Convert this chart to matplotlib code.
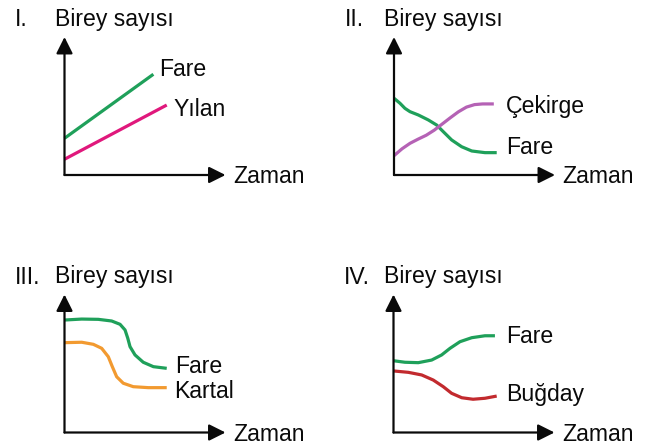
import matplotlib
matplotlib.use("Agg")
import matplotlib.pyplot as plt

plt.rcParams['font.family'] = ['Liberation Sans', 'DejaVu Sans']

W, H = 654, 448

# ---- data (time, population) ----
# Panel I
p1_fare_t = [0.0, 5.52]
p1_fare_n = [2.66, 7.30]
p1_yilan_t = [0.0, 6.35]
p1_yilan_n = [1.14, 5.07]

# Panel II
p2_fare_t = [0.0, 0.37, 0.68, 0.99, 1.51, 2.13, 2.65, 3.06, 3.58, 4.20, 4.83, 5.65, 6.38]
p2_fare_n = [5.56, 5.20, 4.83, 4.59, 4.35, 3.99, 3.62, 3.14, 2.54, 2.05, 1.74, 1.62, 1.62]
p2_cek_t = [0.0, 0.5, 1.0, 1.5, 2.0, 2.5, 3.0, 3.5, 4.0, 4.5, 5.0, 5.5, 6.2]
p2_cek_n = [1.40, 1.90, 2.30, 2.60, 2.88, 3.25, 3.70, 4.15, 4.58, 4.92, 5.10, 5.15, 5.15]

# Panel III
p3_fare_t = [0.0, 1.07, 2.10, 2.93, 3.45, 3.76, 3.93, 4.07, 4.38, 4.89, 5.52, 6.35]
p3_fare_n = [8.15, 8.22, 8.20, 8.08, 7.84, 7.43, 6.83, 6.22, 5.62, 5.09, 4.77, 4.65]
p3_kartal_t = [0.0, 1.07, 1.79, 2.31, 2.72, 2.97, 3.24, 3.65, 4.27, 5.20, 6.35]
p3_kartal_n = [6.51, 6.54, 6.39, 6.10, 5.49, 4.77, 4.04, 3.57, 3.32, 3.25, 3.25]

# Panel IV
p4_fare_t = [0.0, 0.71, 1.54, 2.37, 2.99, 3.51, 4.13, 4.86, 5.68, 6.30]
p4_fare_n = [5.20, 5.09, 5.06, 5.25, 5.62, 6.10, 6.58, 6.87, 7.01, 7.01]
p4_bugday_t = [0.0, 0.92, 1.75, 2.47, 3.09, 3.61, 4.24, 4.94, 5.68, 6.41]
p4_bugday_n = [4.46, 4.36, 4.17, 3.80, 3.32, 2.84, 2.52, 2.41, 2.48, 2.64]

GREEN = '#1fa05a'
PINK = '#e0187c'
PURPLE = '#b562b5'
ORANGE = '#f29a30'
RED = '#c22a2e'

panels = [
    dict(num='I.', origin=(64.5, 175), series=[(p1_fare_t, p1_fare_n, GREEN), (p1_yilan_t, p1_yilan_n, PINK)],
         labels=[('Fare', 159, 76), ('Yılan', 173, 116)]),
    dict(num='II.', origin=(394, 175), series=[(p2_fare_t, p2_fare_n, GREEN), (p2_cek_t, p2_cek_n, PURPLE)],
         labels=[('Çekirge', 506, 113), ('Fare', 506, 154)]),
    dict(num='III.', origin=(64.5, 432.5), series=[(p3_fare_t, p3_fare_n, GREEN), (p3_kartal_t, p3_kartal_n, ORANGE)],
         labels=[('Fare', 175, 373), ('Kartal', 174, 398)]),
    dict(num='IV.', origin=(393.5, 432.5), series=[(p4_fare_t, p4_fare_n, GREEN), (p4_bugday_t, p4_bugday_n, RED)],
         labels=[('Fare', 506, 343), ('Buğday', 506, 401)]),
]

fig = plt.figure(figsize=(W / 100, H / 100), dpi=100)
fig.patch.set_facecolor('white')

AX_W, AX_H = 161, 138
FS = 16.6

def ftxt(x, y, s, **kw):
    fig.text(x / W, 1 - y / H, s, ha='left', va='baseline', fontsize=FS, color='#0a0a0a', **kw)

for p in panels:
    ox, oy = p['origin']
    ax = fig.add_axes([ox / W, 1 - oy / H, AX_W / W, AX_H / H])
    ax.set_xlim(0, 10)
    ax.set_ylim(0, 10)
    ax.axis('off')
    for t, n, c in p['series']:
        ax.plot(t, n, color=c, lw=2.3, solid_capstyle='butt', solid_joinstyle='round', clip_on=False)
    arrow = dict(arrowstyle='-|>', color='#0a0a0a', lw=1.6, mutation_scale=25, shrinkA=0, shrinkB=0)
    ax.annotate('', xy=(0, 1), xytext=(0, 0), xycoords='axes fraction', arrowprops=arrow)
    ax.annotate('', xy=(1, 0), xytext=(0, 0), xycoords='axes fraction', arrowprops=arrow)
    top = oy - 149
    ftxt(ox - 49.5, top, p['num'])
    ftxt(ox - 9.5, top, 'Birey sayısı')
    ftxt(ox + 168.5, oy + 8, 'Zaman')
    for s, x, y in p['labels']:
        ftxt(x, y, s)

fig.savefig('out.png', dpi=100, facecolor='white')
